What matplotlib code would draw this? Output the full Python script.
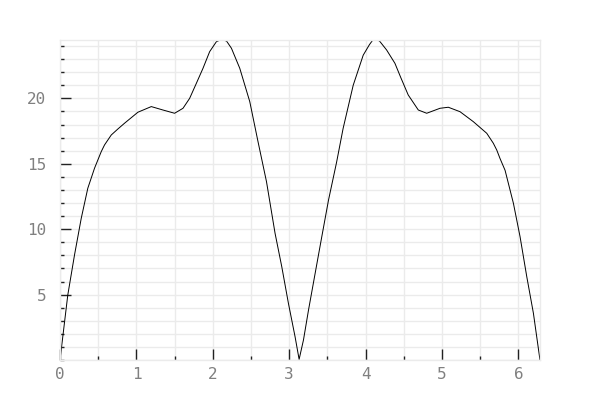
#!/usr/bin/env python
# -*- coding: utf-8 -*-

# Kurve mit zwei Hoeckern
import matplotlib
matplotlib.use('Agg')
import matplotlib.pyplot as plt
from matplotlib.ticker import MultipleLocator

##########
## Daten ##
##########

x_werte = [0.0, 0.102, 0.19, 0.278, 0.364, 0.452, 0.54, 0.583, 0.671, 0.758,
           0.845, 1.02, 1.195, 1.347, 1.5, 1.61, 1.697, 1.785, 1.872, 1.959,
           2.047, 2.09, 2.134, 2.18, 2.244, 2.353, 2.484, 2.592, 2.703, 2.815,
           2.903, 2.99, 3.077, 3.13, 3.187, 3.253, 3.34, 3.427, 3.515, 3.62,
           3.706, 3.838, 3.969, 4.05, 4.09, 4.13, 4.18, 4.275, 4.384, 4.46,
           4.558, 4.69, 4.8, 4.974, 5.083, 5.236, 5.41, 5.586, 5.672, 5.717,
           5.76, 5.826, 5.935, 6.022, 6.11, 6.197, 6.283]
y_werte = [0.0, 4.97, 8.03, 10.83, 13.13, 14.66, 15.93, 16.44, 17.2, 17.66,
           18.1, 18.94, 19.37, 19.11, 18.86, 19.24, 20.0, 21.15, 22.3, 23.57,
           24.33, 24.44, 24.46, 24.38, 23.83, 22.3, 19.75, 16.69, 13.63, 9.69,
           7.13, 4.33, 1.78, 0.05, 1.53, 3.82, 6.63, 9.43, 12.23, 15.1,
           17.7, 21.0, 23.3, 24.1, 24.42, 24.46, 24.4, 23.7, 22.68, 21.6,
           20.26, 19.11, 18.86, 19.24, 19.32, 18.98, 18.22, 17.33, 16.57, 16.05,
           15.4, 14.5, 11.98, 9.43, 6.37, 3.57, 0.0]

x_ticks = [0, 1, 2, 3, 4, 5, 6]
y_ticks = [5, 10, 15, 20]

########################
## Diagramm erstellen ##
########################

fig = plt.figure(figsize=(6, 4), dpi=100, facecolor='white')
ax = fig.add_axes([0.1, 0.1, 0.8, 0.8])

ax.plot(x_werte, y_werte, color='black', linewidth=0.7)

ax.set_xlim(0, 6.2832)
ax.set_ylim(0, max(y_werte))

ax.set_xticks(x_ticks)
ax.set_yticks(y_ticks)
ax.xaxis.set_minor_locator(MultipleLocator(0.5))
ax.yaxis.set_minor_locator(MultipleLocator(1))

# Gitter hellgrau, auch auf den Nebenstrichen
ax.grid(True, which='both', color='#ebebeb', linewidth=1)
ax.set_axisbelow(True)

for seite in ax.spines.values():
    seite.set_color('#ebebeb')
    seite.set_linewidth(1)

ax.tick_params(which='major', direction='in', length=8, width=1, color='#222222',
               labelcolor='#808080', labelsize=11.5)
ax.tick_params(which='minor', direction='in', length=3, width=1, color='#222222')
ax.tick_params(axis='y', pad=10)
ax.tick_params(axis='x', pad=5)

for label in ax.get_xticklabels() + ax.get_yticklabels():
    label.set_fontfamily('DejaVu Sans Mono')

plt.savefig('out.png', dpi=100)
